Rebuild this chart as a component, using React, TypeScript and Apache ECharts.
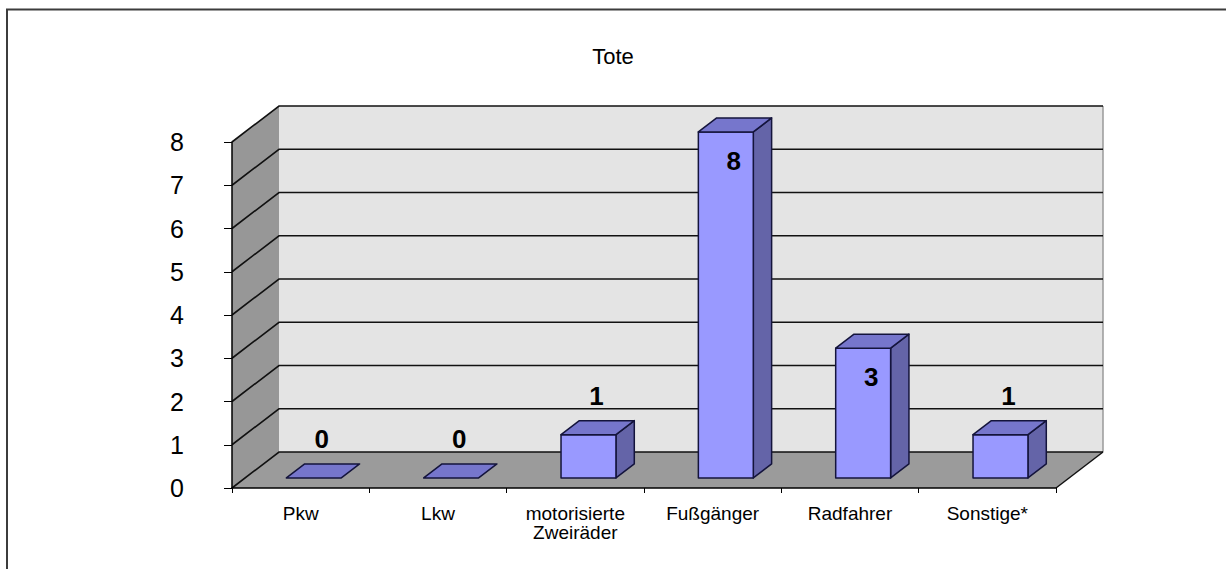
import React, { useEffect, useRef } from "react";
import * as echarts from "echarts";

const chartTitle = "Tote";
const categories = ["Pkw", "Lkw", "motorisierte\nZweiräder", "Fußgänger", "Radfahrer", "Sonstige*"];
const values = [0, 0, 1, 8, 3, 1];
const yMin = 0;
const yMax = 8;
const yStep = 1;
const gridValues = [0, 1, 2, 3, 4, 5, 6, 7, 8];

// 3D projection of the depth direction (pixels for the full depth of the plot)
const DEPTH_X = 47;
const DEPTH_Y = -36;
const BAR_FRONT = 0.28;
const BAR_BACK = 0.67;
const BAR_WIDTH_RATIO = 0.4;

const FONT = "Arial, 'Liberation Sans', sans-serif";

export default function App() {
  const ref = useRef<HTMLDivElement>(null);

  useEffect(() => {
    if (!ref.current) return;
    const chart = echarts.init(ref.current, undefined, { renderer: "svg" });
    const nCat = categories.length;

    const option: any = {
      animation: false,
      backgroundColor: "#ffffff",
      title: {
        text: chartTitle,
        left: "center",
        top: 40,
        textStyle: { fontSize: 22, fontWeight: "normal", fontFamily: FONT, color: "#000" },
      },
      graphic: [
        {
          type: "rect",
          shape: { x: 7, y: 9.5, width: 1400, height: 800 },
          style: { fill: "none", stroke: "#3c3c3c", lineWidth: 2 },
          z: 10,
        },
      ],
      grid: { left: 232, right: 170, top: 142, bottom: 81, containLabel: false },
      xAxis: [
        {
          type: "category",
          data: categories,
          z: 6,
          axisLine: { show: true, lineStyle: { color: "#000", width: 1.5 } },
          axisTick: { show: true, length: 5, alignWithLabel: false, lineStyle: { color: "#000" } },
          axisLabel: {
            interval: 0,
            fontSize: 19,
            lineHeight: 19,
            margin: 16,
            color: "#000",
            fontFamily: FONT,
          },
          splitLine: { show: false },
        },
        { type: "value", min: 0, max: nCat, show: false },
      ],
      yAxis: {
        type: "value",
        min: yMin,
        max: yMax,
        interval: yStep,
        z: 6,
        axisLine: { show: true, lineStyle: { color: "#000", width: 1.5 } },
        axisTick: { show: true, length: 8, lineStyle: { color: "#000" } },
        axisLabel: { fontSize: 25, margin: 48, color: "#000", fontFamily: FONT },
        splitLine: { show: false },
      },
      series: [
        {
          type: "custom",
          xAxisIndex: 1,
          yAxisIndex: 0,
          z: 1,
          silent: true,
          data: [[0, 0]],
          renderItem: (_params: any, api: any) => {
            const p = (x: number, y: number, k: number) => {
              const c = api.coord([x, y]);
              return [c[0] + DEPTH_X * k, c[1] + DEPTH_Y * k];
            };
            const children: any[] = [];
            // side wall
            children.push({
              type: "polygon",
              shape: { points: [p(0, yMin, 0), p(0, yMax, 0), p(0, yMax, 1), p(0, yMin, 1)] },
              style: { fill: "#979797" },
            });
            // back wall
            children.push({
              type: "polygon",
              shape: { points: [p(0, yMin, 1), p(0, yMax, 1), p(nCat, yMax, 1), p(nCat, yMin, 1)] },
              style: { fill: "#e4e4e4" },
            });
            children.push({
              type: "line",
              shape: (() => {
                const a = p(nCat, yMin, 1);
                const b = p(nCat, yMax, 1);
                return { x1: a[0], y1: a[1], x2: b[0], y2: b[1] };
              })(),
              style: { stroke: "#9a9a9a", lineWidth: 1.5 },
            });
            // floor
            children.push({
              type: "polygon",
              shape: { points: [p(0, yMin, 0), p(nCat, yMin, 0), p(nCat, yMin, 1), p(0, yMin, 1)] },
              style: { fill: "#9b9b9b" },
            });
            // floor right edge
            {
              const a = p(nCat, yMin, 0);
              const b = p(nCat, yMin, 1);
              children.push({
                type: "line",
                shape: { x1: a[0], y1: a[1], x2: b[0], y2: b[1] },
                style: { stroke: "#111", lineWidth: 1.5 },
              });
            }
            // grid lines on side wall and back wall
            gridValues.forEach((v) => {
              children.push({
                type: "polyline",
                shape: { points: [p(0, v, 0), p(0, v, 1), p(nCat, v, 1)] },
                style: { stroke: "#111", lineWidth: 1.6, fill: "none" },
              });
            });
            return { type: "group", children };
          },
        },
        {
          type: "custom",
          xAxisIndex: 0,
          yAxisIndex: 0,
          z: 3,
          silent: true,
          encode: { x: 0, y: 1 },
          data: values.map((v, i) => [i, v]),
          renderItem: (_params: any, api: any) => {
            const i = api.value(0);
            const v = api.value(1);
            const base = api.coord([i, 0]);
            const top = api.coord([i, v]);
            const bw = api.size([1, 0])[0] * BAR_WIDTH_RATIO;
            const f = (x: number, y: number, k: number) => [x + DEPTH_X * k, y + DEPTH_Y * k];
            const xl = base[0] - bw / 2;
            const xr = base[0] + bw / 2;
            const FLB = f(xl, base[1], BAR_FRONT);
            const FRB = f(xr, base[1], BAR_FRONT);
            const FRT = f(xr, top[1], BAR_FRONT);
            const FLT = f(xl, top[1], BAR_FRONT);
            const BLT = f(xl, top[1], BAR_BACK);
            const BRT = f(xr, top[1], BAR_BACK);
            const BRB = f(xr, base[1], BAR_BACK);
            const stroke = "#14143c";
            const children: any[] = [];
            if (v > 0) {
              children.push({
                type: "polygon",
                shape: { points: [FRB, FRT, BRT, BRB] },
                style: { fill: "#6464a8", stroke, lineWidth: 1.5, lineJoin: "round" },
              });
              children.push({
                type: "polygon",
                shape: { points: [FLB, FRB, FRT, FLT] },
                style: { fill: "#9999ff", stroke, lineWidth: 1.5, lineJoin: "round" },
              });
            }
            children.push({
              type: "polygon",
              shape: { points: [FLT, FRT, BRT, BLT] },
              style: { fill: "#7676cc", stroke, lineWidth: 1.5, lineJoin: "round" },
            });
            const cx = (FLT[0] + FRT[0]) / 2 + 8;
            const ly = v >= 3 ? FLT[1] + 29 : FLT[1] - 39;
            children.push({
              type: "text",
              style: {
                text: String(v),
                x: cx,
                y: ly,
                align: "center",
                verticalAlign: "middle",
                fontSize: 26,
                fontWeight: "bold",
                fontFamily: FONT,
                fill: "#000",
              },
            });
            return { type: "group", children };
          },
        },
      ],
    };

    chart.setOption(option);
    return () => chart.dispose();
  }, []);

  return (
    <div
      ref={ref}
      style={{ position: "fixed", left: 0, top: 0, width: 1226, height: 569, background: "#fff" }}
    />
  );
}
